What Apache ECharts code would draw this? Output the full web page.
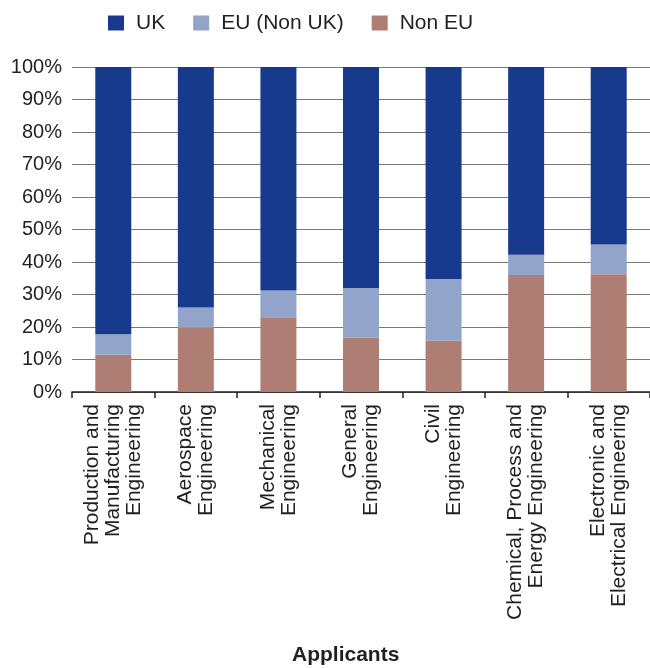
<!DOCTYPE html>
<html>
<head>
<meta charset="utf-8">
<script src="https://cdn.jsdelivr.net/npm/echarts@6/dist/echarts.min.js"></script>
<style>html,body{margin:0;padding:0;background:#fff}#c{width:650px;height:668px}</style>
</head>
<body>
<div id="c"></div>
<script>
const categories = [
  "Production and\nManufacturing\nEngineering",
  "Aerospace\nEngineering",
  "Mechanical\nEngineering",
  "General\nEngineering",
  "Civil\nEngineering",
  "Chemical, Process and\nEnergy Engineering",
  "Electronic and\nElectrical Engineering"
];
const nonEU = [11.5, 19.8, 23.0, 16.8, 15.8, 36.0, 36.2];
const euNonUK = [6.3, 6.2, 8.2, 15.2, 19.0, 6.2, 9.2];
const uk = [82.2, 74.0, 68.8, 68.0, 65.2, 57.8, 54.6];
const yTicks = [0, 10, 20, 30, 40, 50, 60, 70, 80, 90, 100];
const xTitle = "Applicants";

const FONT = '"Liberation Sans", Arial, Helvetica, sans-serif';
const TXT = '#231f20';
const chart = echarts.init(document.getElementById('c'), null, {renderer: 'canvas'});
chart.setOption({
  animation: false,
  backgroundColor: '#fff',
  textStyle: {fontFamily: FONT, color: TXT},
  legend: {
    data: ['UK', 'EU (Non UK)', 'Non EU'],
    left: 103, top: 7,
    itemWidth: 16, itemHeight: 15, itemGap: 28,
    icon: 'rect',
    textStyle: {fontFamily: FONT, fontSize: 21, color: TXT, lineHeight: 22, padding: [0, 0, 0, 7]}
  },
  grid: {left: 72, top: 67, width: 581, height: 325, containLabel: false},
  xAxis: {
    type: 'category',
    data: categories,
    axisLine: {lineStyle: {color: TXT, width: 1.5}},
    axisTick: {show: true, length: 6, lineStyle: {color: TXT, width: 1.5}},
    axisLabel: {rotate: 90, margin: 12, fontSize: 21, lineHeight: 21, color: TXT, fontFamily: FONT, interval: 0}
  },
  yAxis: {
    type: 'value',
    min: yTicks[0], max: yTicks[yTicks.length - 1], interval: 10,
    axisLine: {show: false},
    axisTick: {show: false},
    splitLine: {lineStyle: {color: '#7a7a7a', width: 1.2}},
    axisLabel: {formatter: '{value}%', fontSize: 20, margin: 10, color: TXT, fontFamily: FONT}
  },
  graphic: [{
    type: 'text', left: 292, top: 645,
    style: {text: xTitle, font: 'bold 21px ' + FONT, fill: TXT}
  }],
  series: [
    {name: 'Non EU', type: 'bar', stack: 's', data: nonEU, barWidth: 36, itemStyle: {color: '#ae7d74'}},
    {name: 'EU (Non UK)', type: 'bar', stack: 's', data: euNonUK, barWidth: 36, itemStyle: {color: '#93a4ca'}},
    {name: 'UK', type: 'bar', stack: 's', data: uk, barWidth: 36, itemStyle: {color: '#183a8c'}}
  ]
});
</script>
</body>
</html>
